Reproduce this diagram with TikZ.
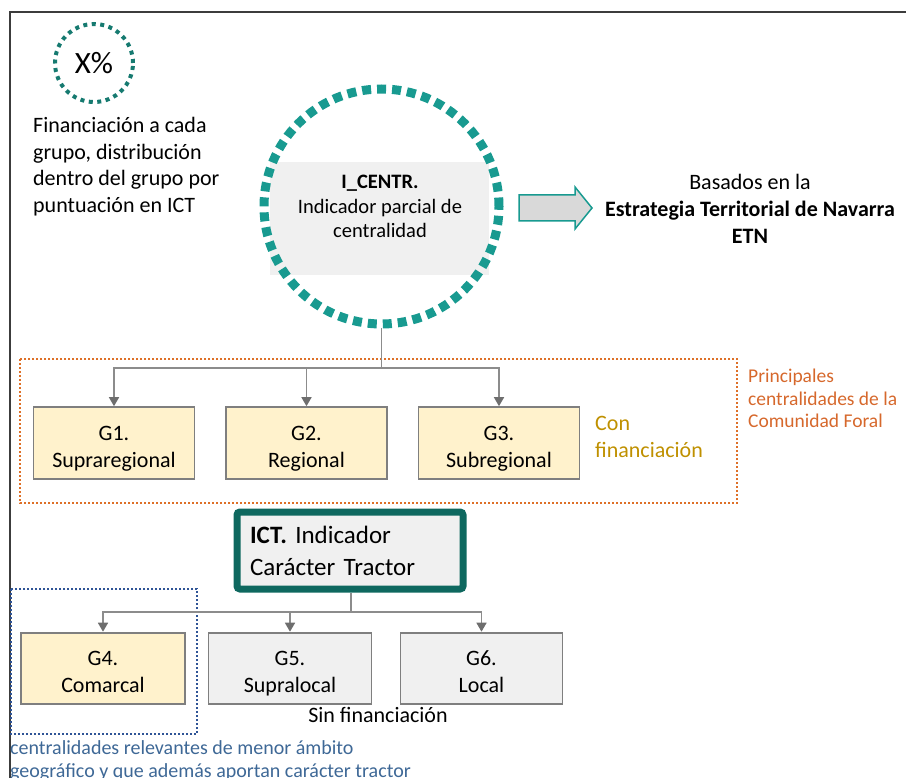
\documentclass[tikz,border=0pt]{standalone}
\usepackage{fontspec}
\setmainfont{Carlito}
\usetikzlibrary{arrows.meta}

\definecolor{tealRing}{RGB}{24,154,144}
\definecolor{tealDot}{RGB}{22,122,112}
\definecolor{tealDark}{RGB}{14,104,95}
\definecolor{frameGray}{RGB}{60,60,60}
\definecolor{lineGray}{RGB}{140,140,140}
\definecolor{tipGray}{RGB}{110,110,110}
\definecolor{boxGray}{RGB}{127,127,127}
\definecolor{boxFill}{RGB}{240,240,240}
\definecolor{arrFill}{RGB}{217,217,217}
\definecolor{yellowFill}{RGB}{255,242,204}
\definecolor{orangeDot}{RGB}{222,112,40}
\definecolor{orangeText}{RGB}{214,104,44}
\definecolor{goldText}{RGB}{191,144,0}
\definecolor{blueDot}{RGB}{47,84,150}
\definecolor{blueText}{RGB}{62,104,150}
\newcommand{\grouptext}[2]{\rule{0pt}{30pt}#1\\#2\strut}

\begin{document}
\begin{tikzpicture}[x=1pt, y=-1pt]
  \tikzstyle{conn} = [draw=lineGray, line width=1.5pt]
  \tikzstyle{arr} = [conn, -{Triangle[width=10pt, length=9pt, color=tipGray]}]
  \tikzstyle{gbox} = [draw=boxGray, line width=1.8pt, minimum width=161pt, minimum height=69pt, align=center, font=\fontsize{22}{27}\selectfont]
  \useasboundingbox (0,0) rectangle (906,778);
  \draw[frameGray, line width=2pt] (906,12) -- (10,12) -- (10,778);

  \node[circle, draw=tealDot, line width=4pt, dash pattern=on 4pt off 4.5pt, minimum size=78pt] (xpct) at (94,63) {\fontsize{31}{36}\selectfont X\%};
  \node[anchor=north west, align=left, inner sep=0, font=\fontsize{22}{26.7}\selectfont] (note) at (33,117) {Financiación a cada\\grupo, distribución\\dentro del grupo por\\puntuación en ICT};

  \node[fill=boxFill, minimum width=219pt, minimum height=113pt] (centrbox) at (379,218.5) {};
  \node[circle, draw=tealRing, line width=9pt, dash pattern=on 9pt off 6pt, minimum size=235pt] (circ) at (381.5,206.5) {};
  \node[anchor=north, align=center, inner sep=0, font=\fontsize{20.5}{24.5}\selectfont] (centr) at (380,175) {\textbf{I\_CENTR.}\\Indicador parcial de\\centralidad};
  \draw[tealRing, fill=arrFill, line width=1.5pt] (519,195) -- (575,195) -- (575,187) -- (592,208) -- (575,229) -- (575,221) -- (519,221) -- cycle;
  \node[anchor=north, align=center, inner sep=0, font=\fontsize{22}{27}\selectfont] (etn) at (750,174) {Basados en la\\\textbf{Estrategia Territorial de Navarra}\\\textbf{ETN}};

  \draw[orangeDot, line width=2pt, dash pattern=on 2pt off 2pt] (20,359) rectangle (737,503);
  \node[gbox, fill=yellowFill] (g1) at (114,443) {\grouptext{G1.}{Supraregional}};
  \node[gbox, fill=yellowFill] (g2) at (306.5,443) {\grouptext{G2.}{Regional}};
  \node[gbox, fill=yellowFill] (g3) at (499,443) {\grouptext{G3.}{Subregional}};
  \coordinate (top) at (381.5,368);
  \draw[conn] (circ.south) -- (top);
  \draw[arr] (top) -| (g1);
  \draw[arr] (top) -| (g2);
  \draw[arr] (top) -| (g3);
  \node[anchor=north west, align=left, inner sep=0, text=goldText, font=\fontsize{22}{27}\selectfont] (con) at (595,416) {Con\\financiación};
  \node[anchor=north west, align=left, inner sep=0, text=orangeText, font=\fontsize{19.5}{22.5}\selectfont] (princ) at (748,369) {Principales\\centralidades de la\\Comunidad Foral};

  \node[draw=tealDark, line width=7pt, rounded corners=3pt, fill=boxFill, minimum width=226pt, minimum height=77pt, text width=200pt, align=left, inner sep=0, font=\fontsize{25}{32}\selectfont] (ict) at (350,550.5) {\textbf{ICT.} Indicador\\Carácter Tractor};
  \draw[blueDot, line width=2.5pt, dash pattern=on 2pt off 2pt] (11,589) rectangle (197,734);
  \node[gbox, fill=yellowFill, minimum width=164pt] (g4) at (103,668.5) {\grouptext{G4.}{Comarcal}};
  \node[gbox, fill=boxFill, minimum width=163pt] (g5) at (290,668.5) {\grouptext{G5.}{Supralocal}};
  \node[gbox, fill=boxFill, minimum width=162pt] (g6) at (481.5,668.5) {\grouptext{G6.}{Local}};
  \coordinate (bot) at (351,612);
  \draw[conn] (ict.south -| bot) -- (bot);
  \draw[arr] (bot) -| (g4);
  \draw[arr] (bot) -| (g5);
  \draw[arr] (bot) -| (g6);
  \node[anchor=base, inner sep=0, font=\fontsize{22}{27}\selectfont] (sin) at (378,722) {Sin financiación};
  \node[anchor=north west, align=left, inner sep=0, text=blueText, font=\fontsize{20}{23.5}\selectfont] (menor) at (10,740) {centralidades relevantes de menor ámbito\\geográfico y que además aportan carácter tractor};
\end{tikzpicture}
\end{document}
